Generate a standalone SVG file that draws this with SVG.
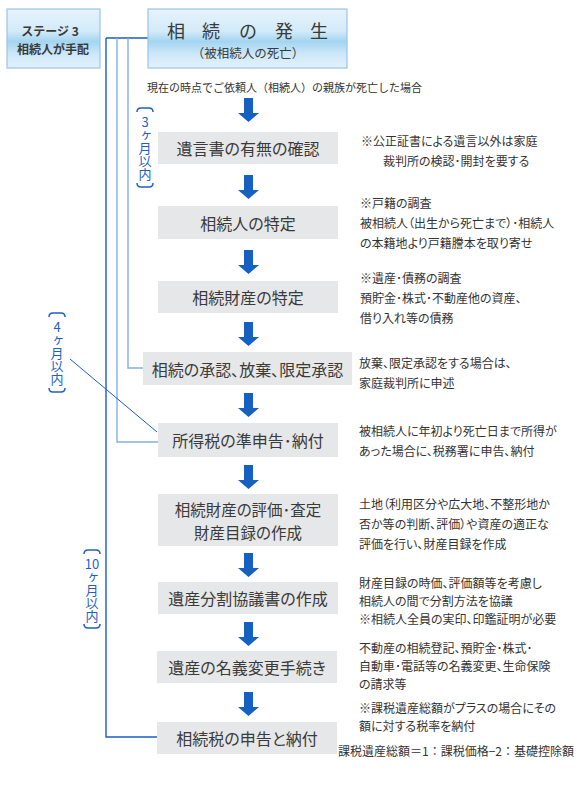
<svg xmlns="http://www.w3.org/2000/svg" width="580" height="790" viewBox="0 0 580 790">
<defs>
<linearGradient id="hdr" x1="0" y1="0" x2="0" y2="1">
<stop offset="0" stop-color="#e6f3fc"/>
<stop offset="0.38" stop-color="#d2eaf9"/>
<stop offset="0.55" stop-color="#a3d5f1"/>
<stop offset="0.75" stop-color="#cbe7f8"/>
<stop offset="1" stop-color="#e3f2fc"/>
</linearGradient>
</defs>
<style>
text{font-family:"Noto Sans CJK JP","Noto Sans",sans-serif;dominant-baseline:central}
.hdr{fill:url(#hdr);stroke:#9cc3ea;stroke-width:1.2}
.box{fill:#e6e7e8}
.bt{font-size:16px;fill:#3a3a3a;text-anchor:middle;font-feature-settings:"palt"}
.note{font-size:12px;fill:#333;font-feature-settings:"palt"}
.num{font-size:13px;fill:#1f5fc4;text-anchor:middle}
.vt{font-size:13px;fill:#1f5fc4;writing-mode:vertical-rl;text-orientation:upright}
.brk{fill:none;stroke:#1f5fc4;stroke-width:1.5}
.arrow{fill:#1560c0}
.dk{fill:none;stroke:#1a5dc8;stroke-width:1.4}
.lt{fill:none;stroke:#84b0e4;stroke-width:1.4}
</style>
<rect width="580" height="790" fill="#fff"/>

<g id="stage">
<rect class="hdr" x="7" y="9" width="93" height="59"/>
<text x="50" y="30" style="font-size:12px;font-weight:bold;fill:#3a3a3a;text-anchor:middle">ステージ 3</text>
<text x="53" y="48" style="font-size:12px;font-weight:bold;fill:#3a3a3a;text-anchor:middle">相続人が手配</text>
</g>

<g id="connectors">
<path class="dk" d="M106,38 H148"/>
<path class="dk" d="M106,38 V737 H157"/>
<path class="lt" d="M117,38 V442 H158"/>
<path class="lt" d="M128,38 V368 H143"/>
<path d="M70,359 L157,432" fill="none" stroke="#1a5dc8" stroke-width="1"/>
<g class="arrows">
<path class="arrow" d="M244,98 h9 v15 h6 l-10.5,9 l-10.5,-9 h6 z"/>
<path class="arrow" d="M244,175 h9 v15 h6 l-10.5,9 l-10.5,-9 h6 z"/>
<path class="arrow" d="M244,250 h9 v15 h6 l-10.5,9 l-10.5,-9 h6 z"/>
<path class="arrow" d="M244,322 h9 v15 h6 l-10.5,9 l-10.5,-9 h6 z"/>
<path class="arrow" d="M244,393 h9 v15 h6 l-10.5,9 l-10.5,-9 h6 z"/>
<path class="arrow" d="M244,465 h9 v15 h6 l-10.5,9 l-10.5,-9 h6 z"/>
<path class="arrow" d="M244,553 h9 v15 h6 l-10.5,9 l-10.5,-9 h6 z"/>
<path class="arrow" d="M244,622 h9 v15 h6 l-10.5,9 l-10.5,-9 h6 z"/>
<path class="arrow" d="M244,692 h9 v15 h6 l-10.5,9 l-10.5,-9 h6 z"/>
</g>
</g>

<g id="start">
<rect class="hdr" x="148" y="9" width="199" height="59"/>
<text x="176 211 248 284 319" y="30" style="font-size:18px;fill:#3a3a3a;text-anchor:middle">相続の発生</text>
<text x="248" y="52" style="font-size:12.5px;fill:#3a3a3a;text-anchor:middle">（被相続人の死亡）</text>
</g>
<text x="147" y="87" style="font-size:11px;fill:#333">現在の時点でご依頼人（相続人）の親族が死亡した場合</text>

<g id="p3">
<path class="brk" d="M137,112 Q137,108 141,108 H149 Q153,108 153,112"/>
<text class="num" x="145" y="121">3</text>
<text class="vt" x="145" y="128.5">ヶ月以内</text>
<path class="brk" d="M137,183 Q137,187 141,187 H149 Q153,187 153,183"/>
</g>
<g id="p4">
<path class="brk" d="M49,317 Q49,313 53,313 H61 Q65,313 65,317"/>
<text class="num" x="57" y="326">4</text>
<text class="vt" x="57" y="333.5">ヶ月以内</text>
<path class="brk" d="M49,388 Q49,392 53,392 H61 Q65,392 65,388"/>
</g>
<g id="p10">
<path class="brk" d="M84,554 Q84,550 88,550 H96 Q100,550 100,554"/>
<text class="num" x="92" y="563">10</text>
<text class="vt" x="92" y="570.5">ヶ月以内</text>
<path class="brk" d="M84,624 Q84,628 88,628 H96 Q100,628 100,624"/>
</g>

<g id="n1">
<rect class="box" x="158" y="132" width="180" height="32"/>
<text class="bt" x="248" y="148">遺言書の有無の確認</text>
</g>
<g id="n2">
<rect class="box" x="158" y="206" width="180" height="33"/>
<text class="bt" x="248" y="222.5">相続人の特定</text>
</g>
<g id="n3">
<rect class="box" x="158" y="281" width="180" height="32"/>
<text class="bt" x="248" y="297">相続財産の特定</text>
</g>
<g id="n4">
<rect class="box" x="143" y="352" width="209" height="33"/>
<text class="bt" x="247.5" y="368.5">相続の承認、放棄、限定承認</text>
</g>
<g id="n5">
<rect class="box" x="158" y="423" width="180" height="34"/>
<text class="bt" x="248" y="440">所得税の準申告･納付</text>
</g>
<g id="n6">
<rect class="box" x="158" y="494" width="180" height="52"/>
<text class="bt" x="248" y="509" style="font-size:15.5px">相続財産の評価･査定</text>
<text class="bt" x="248" y="531.5" style="font-size:15.5px">財産目録の作成</text>
</g>
<g id="n7">
<rect class="box" x="158" y="582" width="180" height="32"/>
<text class="bt" x="248" y="598">遺産分割協議書の作成</text>
</g>
<g id="n8">
<rect class="box" x="157" y="651" width="180" height="32"/>
<text class="bt" x="247" y="667">遺産の名義変更手続き</text>
</g>
<g id="n9">
<rect class="box" x="157" y="722" width="180" height="32"/>
<text class="bt" x="247" y="738">相続税の申告と納付</text>
</g>

<g id="notes">
<text class="note" x="361" y="140">※公正証書による遺言以外は家庭</text>
<text class="note" x="383" y="160">裁判所の検認･開封を要する</text>
<text class="note" x="360" y="202">※戸籍の調査</text>
<text class="note" x="360" y="222">被相続人（出生から死亡まで）･相続人</text>
<text class="note" x="360" y="242">の本籍地より戸籍謄本を取り寄せ</text>
<text class="note" x="360" y="277">※遺産･債務の調査</text>
<text class="note" x="360" y="297">預貯金･株式･不動産他の資産、</text>
<text class="note" x="360" y="317">借り入れ等の債務</text>
<text class="note" x="359" y="362">放棄、限定承認をする場合は、</text>
<text class="note" x="359" y="382">家庭裁判所に申述</text>
<text class="note" x="359" y="430">被相続人に年初より死亡日まで所得が</text>
<text class="note" x="359" y="450">あった場合に、税務署に申告、納付</text>
<text class="note" x="359" y="503">土地（利用区分や広大地、不整形地か</text>
<text class="note" x="359" y="523">否か等の判断、評価）や資産の適正な</text>
<text class="note" x="359" y="543">評価を行い、財産目録を作成</text>
<text class="note" x="359" y="582">財産目録の時価、評価額等を考慮し</text>
<text class="note" x="359" y="600">相続人の間で分割方法を協議</text>
<text class="note" x="359" y="618">※相続人全員の実印、印鑑証明が必要</text>
<text class="note" x="359" y="647">不動産の相続登記、預貯金･株式･</text>
<text class="note" x="359" y="665">自動車･電話等の名義変更、生命保険</text>
<text class="note" x="359" y="683">の請求等</text>
<text class="note" x="359" y="707">※課税遺産総額がプラスの場合にその</text>
<text class="note" x="359" y="725">額に対する税率を納付</text>
<text x="574" y="750" style="font-size:12px;fill:#333;text-anchor:end">課税遺産総額＝1：課税価格−2：基礎控除額</text>
</g>
</svg>
